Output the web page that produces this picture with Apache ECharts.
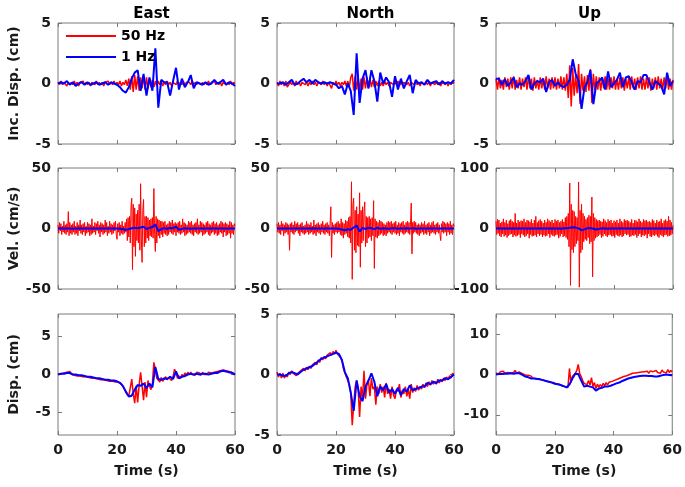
<!DOCTYPE html>
<html><head><meta charset="utf-8">
<script src="https://cdn.jsdelivr.net/npm/echarts@6/dist/echarts.min.js"></script>
<style>html,body{margin:0;padding:0;background:#fff}#c{width:685px;height:487px}</style>
</head><body><div id="c"></div>
<script>
// ---- labels / ticks ----
const columnTitles = ['East', 'North', 'Up'];
const rowNames = ['Inc. Disp. (cm)', 'Vel. (cm/s)', 'Disp. (cm)'];
const seriesNames = ['50 Hz', '1 Hz'];
const xTickValues = [0, 20, 40, 60];
const yRanges = [[[-5, 5], [-5, 5], [-5, 5]], [[-50, 50], [-50, 50], [-100, 100]], [[-8, 8], [-5, 5], [-15, 15]]];
const yTickValues = [[[-5, 0, 5], [-5, 0, 5], [-5, 0, 5]], [[-50, 0, 50], [-50, 0, 50], [-100, 0, 100]], [[-5, 0, 5], [-5, 0, 5], [-10, 0, 10]]];

// ---- Incremental displacement (cm) ----
const incEast50 = [0.1,-0.1,0.2,-0.1,0.1,0.2,-0.2,0.1,-0.1,0.1, -0.1,0.2,-0.1,0.1,-0.2,0.1,0,0.2,-0.1,0.1, -0.1,0.1,-0.2,0.1,0.1,-0.1,0.2,-0.1,0.1,-0.1, 0.1,-0.2,0.1,0,0.2,-0.1,0.1,-0.1,0.2,-0.1, 0.1,-0.1,0.2,-0.2,0.1,-0.1,0.3,-0.2,0.4,-0.5, 0.6,-0.7,0.7,-0.5,0.6,-0.6,0.5,-0.4,0.6,-0.5, 0.5,-0.4,0.4,-0.3,0.3,-0.3,0.2,-0.2,0.2,-0.1, 0.2,-0.2,0.1,-0.1,0.2,-0.1,0.1,-0.2,0.1,0.1, -0.1,0.2,-0.1,0.1,-0.1,0.2,-0.2,0.1,0,0.1, -0.1,0.2,-0.1,0.1,-0.1,0.1,0.2,-0.1,0.1,-0.1, 0.1,-0.1,0.2,-0.1,0.1,0,0.2,-0.1,0.1,-0.1, 0.1,-0.2,0.1,0.2,-0.1,0.1,-0.1,0.2,-0.1,0.1, 0];
const incEast1 = [0,0.1,0,0.2,-0.1,0.1,-0.2,0,0.1,-0.1, 0.1,-0.1,0,0.1,-0.1,0,0.1,-0.1,0.1,0, -0.1,-0.3,-0.6,-0.75,-0.3,0.4,0.9,1.1,-0.6,0.8, -1.0,0.5,-0.6,2.9,-2.0,0.3,0.1,0.1,-1.0,0.2, 1.3,-0.5,0.4,-0.3,0.1,0.7,-0.4,0.1,0,-0.1, 0.1,-0.1,0,0.3,0,0.1,0.3,-0.1,0.1,0,-0.2];
const incNorth50 = [0.1,-0.2,0.2,-0.1,0.1,-0.2,0.2,-0.3,-0.1,0.2, -0.1,0.1,-0.2,0.2,-0.1,0.1,-0.2,0.1,0.2,-0.1, 0.1,-0.2,0.1,-0.1,0.2,-0.1,0.1,-0.2,0.1,0.1, -0.1,0.2,-0.1,0.1,-0.2,0.1,0.2,-0.4,0.1,-0.1, 0.2,-0.1,0.1,-0.2,0.1,-0.1,0.2,-0.2,0.2,-0.3, 0.5,0.8,-0.6,0.6,-0.5,0.5,-0.6,0.4,-0.5,0.5, -0.4,0.5,-0.4,0.4,-0.3,0.3,-0.3,0.2,-0.2,0.2, -0.2,0.1,-0.2,0.2,-0.1,0.1,-0.2,0.1,0.2,-0.1, 0.1,-0.1,0.2,-0.2,0.1,-0.1,0.1,0.2,-0.1,0.1, -0.2,0.1,0.1,-0.1,0.2,-0.1,0.1,-0.2,0.1,0.1, -0.1,0.2,-0.1,0.1,-0.2,0.1,0.1,-0.1,0.2,-0.1, 0.1,-0.2,0.1,0.2,-0.1,0.1,-0.2,0.1,-0.1,0.2, 0];
const incNorth1 = [0,0,0.1,-0.1,0.1,0.3,-0.1,0,0.2,0.4, 0.1,0.3,0,0.3,0.1,0,0.1,0,0.1,0, -0.1,-0.4,-0.2,-0.9,0,-0.6,-2.6,2.5,-1.6,0.4, 1.1,-0.4,1.1,0.2,-1.5,0.9,0,0.5,0.1,-1.1, 0.6,-0.5,0.4,-0.4,0.2,0.7,-0.8,0.3,0,0.1, -0.1,0.3,0,0.1,0.2,-0.1,0.2,0,0.1,0,0.3];
const incUp50 = [0.4,-0.5,0.5,-0.4,0.3,-0.5,0.5,-0.3,0.4,-0.5, 0.5,-0.4,0.6,-0.5,0.3,-0.4,0.5,-0.5,0.4,-0.3, 0.5,-0.5,0.6,-0.4,0.4,-0.6,0.5,-0.4,0.3,-0.5, 0.5,-0.4,0.4,-0.5,0.6,-0.4,0.4,-0.5,0.5,-0.4, 0.5,-0.5,0.4,-0.4,0.6,-0.5,0.5,-0.6,0.8,-1.2, 1.5,-1.9,1.3,-1.0,0.7,-0.8,1.6,-1.7,0.8,-0.6, 0.6,-0.7,0.7,-0.6,1.2,-1.6,0.8,-0.6,0.6,-0.5, 0.5,-0.6,0.5,-0.4,0.6,-0.5,0.4,-0.5,0.5,-0.4, 0.6,-0.5,0.4,-0.5,0.5,-0.4,0.5,-0.6,0.4,-0.4, 0.5,-0.5,0.6,-0.4,0.4,-0.5,0.5,-0.4,0.6,-0.5, 0.4,-0.5,0.5,-0.4,0.5,-0.6,0.4,-0.4,0.5,-0.5, 0.6,-0.4,0.4,-0.5,0.5,-0.4,0.6,-0.5,0.4,-0.5, 0.3];
const incUp1 = [0.4,0.4,-0.1,0.35,-0.2,0.1,0.5,-0.3,0,-0.1, 0.2,0.7,-0.5,0,0.2,0.1,0.4,-0.7,0.1,0.3, -0.2,0.1,-0.2,-0.3,-0.1,0.3,2.0,0.8,0.2,-2.1, -0.3,0.1,1.1,-1.7,0,0.2,0.5,-0.5,1.0,-0.3, 0,0.3,0.9,-0.3,0.5,0.6,0.1,-0.5,0.2,0.1, 0.7,0.7,0.1,-0.5,0.2,0,-0.2,-0.9,0.9,-0.2,0.2];

// ---- Velocity (cm/s) ----
const velEast50 = [3,-4,5,-2,4,-5,2,-3,6,-4,3,-5,4,-3,14,-6,5,-4,3,-5, 4,-3,6,-5,2,-4,5,-6,3,-2,7,-4,3,-5,4,-3,5,-6,2,-4, 5,-3,4,-6,3,-5,8,-4,2,-3,5,-5,4,-2,6,-4,3,-7,5,-3, 4,-5,3,-4,7,-3,5,-6,2,-4,6,-3,4,-5,3,-4,5,-2,6,-5, -9,4,-3,5,-6,3,-4,6,-5,2,-4,5,-3,8,-10,9,-7,10,-12,18, 25,-34,20,-15,17,-23,12,-10,15,-12,20,-18,37,-8,-28,15,24,-15,10,-12, 10,-8,9,-10,7,-6,8,-7,9,-8,33,-5,-19,10,-12,8,-6,7,-8,6, -5,6,-7,5,-4,6,-5,3,-6,4,-5,6,-3,5,-4,7,-5,4,-3,5, -6,4,-3,5,-4,6,-5,3,-4,8,-3,5,-6,4,-5,3,-4,6,-3,5, -4,6,-5,3,-6,4,-3,5,-4,8,-5,3,-4,6,-3,5,-6,4,-5,3, -4,5,-3,6,-5,4,-6,3,-4,5,-3,6,-5,4,-4,5,-6,3,-5,4, -3,6,-4,5,-7,4,-3,5,-6,4,-5,3,-4,6,-8,5,-4,3,-5,4, 2];
const velEast1 = [0,0.2,-0.1,0.1,0,-0.2,0.1,0,0.1,-0.1, 0,0.1,-0.1,0,0.1,-0.1,0,0.1,-0.1,0, 0.1,-0.2,-0.6,-1.0,-0.5,0.2,0.6,0.3,0.8,1.4, -0.4,0.5,1.2,3.3,-2.2,-0.5,0.3,-0.2,0.4,0.3, 1.6,-1.1,-0.3,0.2,0.1,-0.2,0.1,0,0.1,-0.1, 0,0.1,-0.1,0,0.1,0,-0.1,0.1,0,-0.1,0];
const velNorth50 = [4,-3,5,-4,3,-5,6,-2,4,-6,3,-4,5,-3,4,-5,3,-18,4,-3, 5,-4,3,-5,6,-3,4,-2,5,-4,3,-6,4,-3,5,-4,2,-5,3,-4, 6,-3,4,-5,3,-4,5,-3,2,-5,7,-4,3,-6,4,-3,5,-4,3,-5, 4,-3,6,-4,3,-5,4,-3,5,-4,3,-6,4,18,-24,5,-4,3,-5,4, -3,5,-4,6,-3,4,-5,8,-6,5,-8,4,-5,7,-4,6,-7,9,-8,10, -12,38.6,-42,20,25,-18,15,-20,18,-14,12,-15,29.5,-32,15,-12,18,-10,14,22, -15,10,-12,9,-8,10,-7,8,-10,9,-6,23,-33,8,-7,6,-8,5,-6,7, -5,6,-4,5,-6,4,-5,3,-6,5,-4,6,-3,5,-4,6,-5,4,-3,5, -4,6,-5,3,-4,5,-6,4,-3,5,-4,6,-5,3,-4,5,-3,6,-4,5, -5,3,21,-21,5,-4,6,-3,5,-4,3,-5,4,-6,3,-4,5,-3,4,-5, 6,-4,3,-5,4,-3,5,-6,3,-4,5,-3,6,-4,3,-5,4,-3,5,-4, 3,-5,-10,4,-3,6,-4,5,-3,4,-6,5,-3,4,-5,6,-4,3,-5,4, 2];
const velNorth1 = [0,0.1,0,-0.1,0.1,0,0.1,-0.1,0,0.1, 0,-0.1,0.1,0,0.1,0,-0.1,0.1,0,0.1, 0,-0.3,-0.8,-1.4,-0.6,-1.0,0.8,2.5,-2.5,0.5, -0.4,0.6,0.2,-0.5,0.6,-0.3,0.2,0.1,-0.3,0.2, 0.3,-0.2,0.1,0,0.2,-0.1,0.3,-0.2,0,0.1, 0,0.1,-0.1,0,0.1,0,-0.1,0.1,0,0.1,0];
const velUp50 = [12,-10,15,-8,14,-12,9,-14,11,-9,16,-13,10,-11,14,-15,8,-12,13,-10, 15,-9,12,-14,10,-11,25,-13,9,-12,14,-10,11,-15,13,-9,12,-11,16,-14, 10,-12,14,-9,13,-16,11,-10,15,-13,9,-12,14,-11,20,-14,10,-9,13,-12, 15,-10,12,-14,9,-11,14,-13,10,-12,16,-9,13,-15,11,-10,14,-12,9,-13, 15,-11,12,-10,14,-16,10,-13,12,-9,15,-14,11,-12,18,-15,20,-18,25,-30, 75,-94,40,-35,30,-40,28,-30,20,-25,18,-20,77,-97,30,-40,40,-35,25,-22, 20,-18,15,-20,18,-15,22,-25,20,-22,52,-80,25,-20,18,-16,15,-14,13,-12, 14,-10,12,-15,11,-13,16,-9,13,-12,10,-14,15,-11,12,-10,14,-13,9,-12, 13,-15,11,-10,14,-12,9,-13,16,-11,12,-14,10,-12,15,-9,13,-11,14,-10, 12,-14,10,-13,15,-11,9,-12,14,-10,13,-15,11,-12,16,-9,12,-14,10,-11, 15,-12,13,-10,14,-16,11,-9,12,-13,10,-14,15,-11,13,-12,9,-10,14,-13, 11,-15,12,-10,16,-12,9,-14,13,-11,15,-10,12,-13,20,-12,14,-11,10,-9, 5];
const velUp1 = [0,0.3,-0.2,0.1,0,0.2,-0.1,0,0.2,-0.2, 0.1,0,-0.2,0.2,0,-0.1,0.1,0,-0.2,0.1, 0,0.2,-0.3,0.3,0.6,1.2,2.2,1.5,0.2,-2.8, -1.5,0.5,0.8,-0.4,-1.7,-0.6,0.4,0.2,-0.3,0.2, 0,-0.2,0.3,0,-0.1,0.2,0,-0.2,0.1,0, 0.2,-0.1,0,0.1,-0.2,0,0.1,0,-0.1,0.1,0];

// ---- Displacement (cm) ----
const dispEast50 = [0.1,0.2,0.1,0.3,0.2,0.4,0.3,0.2,0.4,0.1, 0.1,-0.1,0.1,-0.2,0,-0.2,-0.1,-0.3,-0.1,-0.3, -0.2,-0.4,-0.3,-0.5,-0.3,-0.5,-0.4,-0.6,-0.5,-0.7, -0.5,-0.7,-0.6,-0.8,-0.6,-0.9,-0.7,-0.9,-0.8,-1.0, -0.8,-1.0,-1.0,-1.3,-1.4,-1.9,-2.2,-2.6,-2.9,-3.0, -0.6,-2.5,-3.8,-1.5,-3.7,-1.4,0.3,-1.5,-3.4,-1.0, -3.0,-0.8,-1.5,-2.0,-1.2,1.6,0.6,-0.5,-0.5,-1.0, -0.4,-0.9,-0.6,-0.3,-0.7,-0.4,-0.2,-0.8,-0.3,0.7, 0.3,-0.5,-0.2,-0.5,0,-0.3,0.2,-0.1,0.3,0, 0.3,0,0.2,-0.1,0.3,0.1,0.2,-0.1,0.3,0, 0.2,0,0.3,0.1,0.2,0,0.3,0.1,0.4,0.2, 0.5,0.3,0.6,0.4,0.5,0.3,0.4,0.2,0.3,0.1, 0];
const dispEast1 = [0,0.1,0.1,0.2,0.2,0,0,-0.1,-0.1,-0.2, -0.3,-0.3,-0.4,-0.5,-0.5,-0.6,-0.7,-0.7,-0.8,-0.8, -0.9,-1.1,-1.5,-2.3,-2.9,-2.8,-2.0,-1.4,-1.5,-1.2, -1.8,-1.2,-1.7,1.0,-0.6,-0.7,-0.5,-0.6,-0.3,-0.6, 0.4,-0.5,-0.3,-0.2,0,0.1,0,0.1,0,0.1, 0.1,0,0.1,0.2,0.2,0.4,0.5,0.4,0.3,0.2,0];
const dispNorth50 = [0.2,-0.2,0.1,-0.3,0.1,-0.3,0,-0.2,0.2,0, 0.3,0.1,0.2,-0.1,0.1,0.2,0.3,0.2,0.5,0.3, 0.6,0.4,0.7,0.5,0.8,0.7,1.0,0.8,1.2,1.0, 1.4,1.2,1.5,1.3,1.6,1.5,1.8,1.6,1.9,1.7, 2.0,1.7,1.8,1.4,1.2,0.5,0.4,-0.2,-0.1,-0.8, -1.5,-4.2,-2.5,-1.0,-0.5,-1.2,-3.5,-1.0,-2.0,0.3, -2.0,-0.8,-0.5,-1.8,-0.3,-1.2,-1.0,-2.5,-1.0,-1.6, -0.8,-1.5,-1.0,-1.9,-0.7,-1.6,-1.2,-2.0,-1.0,-1.7, -2.0,-1.2,-1.4,-0.8,-1.9,-1.3,-1.6,-1.0,-1.8,-1.2, -2.0,-0.8,-1.5,-1.1,-1.4,-0.9,-1.3,-1.0,-1.2,-0.8, -1.1,-0.7,-1.0,-0.6,-0.9,-0.5,-0.8,-0.6,-0.8,-0.4, -0.7,-0.4,-0.6,-0.3,-0.5,-0.2,-0.4,-0.1,-0.3,0.1, 0];
const dispNorth1 = [0,0,-0.1,-0.1,0.1,0.2,0.1,0,0.2,0.4, 0.5,0.6,0.7,0.9,1.1,1.3,1.4,1.5,1.6,1.7, 1.8,1.7,1.2,0.2,-0.3,-1.5,-3.0,-0.5,-1.8,-2.2, -1.0,-0.5,0.1,-0.6,-1.8,-1.0,-1.3,-0.8,-1.5,-1.2, -1.6,-1.1,-1.7,-1.2,-1.4,-0.9,-1.3,-1.2,-1.1,-1.0, -1.0,-0.7,-0.8,-0.6,-0.7,-0.5,-0.5,-0.3,-0.4,-0.2,0];
const dispUp50 = [0.3,0.6,0.2,0.7,0.4,0.8,0.3,0.6,0.5,0.9, 0.4,0.8,0.5,1.0,0.4,0.7,0.6,0.3,0.2,-0.2, -0.1,-0.5,-0.2,-0.6,-0.4,-0.9,-0.6,-1.0,-0.7,-1.1, -0.8,-1.3,-1.0,-1.5,-1.2,-1.7,-1.4,-1.9,-1.6,-2.0, -1.8,-2.3,-2.0,-2.4,-2.2,-2.8,-2.5,-3.0,-2.6,-3.2, 1.5,-2.0,-0.5,-0.2,0.3,1.0,2.5,0.2,-0.5,-1.5, -2.2,-1.8,-2.5,-1.5,-2.6,-0.8,-3.0,-2.0,-3.5,-2.4, -3.2,-2.5,-3.0,-2.2,-2.8,-2.0,-2.6,-1.9,-2.3,-1.7, -2.0,-1.4,-1.8,-1.1,-1.4,-0.8,-1.1,-0.5,-0.8,-0.3, -0.5,0,-0.2,0.3,0,0.4,0.1,0.5,0.2,0.6, 0.3,0.7,0.4,0.8,0.3,0.9,0.5,0.7,0.4,1.0, 0.5,0.9,0.3,1.1,0.6,0.8,0.4,1.2,0.5,1.0, 0.6];
const dispUp1 = [0,0.1,0.1,0.2,0.2,0.3,0.2,0.3,0.3,-0.1, -0.5,-0.7,-1.0,-1.0,-1.1,-1.2,-1.4,-1.6,-1.8,-2.0, -2.3,-2.4,-2.6,-2.9,-3.2,-2.5,-1.0,0.2,0.1,-1.5, -3.0,-2.8,-3.0,-3.2,-4.0,-3.5,-3.3,-3.0,-3.0,-2.8, -2.5,-2.2,-2.0,-1.6,-1.3,-1.0,-0.8,-0.6,-0.5,-0.4, -0.3,-0.3,-0.4,-0.4,-0.5,-0.5,-0.3,-0.1,0,-0.1,-0.2];

const red = [[incEast50, incNorth50, incUp50], [velEast50, velNorth50, velUp50], [dispEast50, dispNorth50, dispUp50]];
const blue = [[incEast1, incNorth1, incUp1], [velEast1, velNorth1, velUp1], [dispEast1, dispNorth1, dispUp1]];

// ---- layout ----
const colLeft = [58, 277, 496];
const rowTop = [23, 168, 314];
const panelW = 177, panelH = 121;
const FONT = 'DejaVu Sans';
const TXT = '#1a1a1a';
const BOX = '#7a7a7a';

function toPairs(arr) {
  const dt = 60 / (arr.length - 1);
  return arr.map((v, i) => [i * dt, v]);
}

const grid = [], xAxis = [], yAxis = [], series = [], title = [];
for (let r = 0; r < 3; r++) {
  for (let c = 0; c < 3; c++) {
    const g = r * 3 + c;
    grid.push({ left: colLeft[c], top: rowTop[r], width: panelW, height: panelH, show: true, borderColor: BOX, borderWidth: 1 });
    const tickStyle = { show: true, inside: true, length: 4, lineStyle: { color: BOX, width: 1 } };
    const noLine = { show: false, onZero: false };
    xAxis.push({
      type: 'value', gridIndex: g, position: 'bottom', min: 0, max: 60, interval: 20,
      axisLine: noLine, splitLine: { show: false }, axisTick: tickStyle,
      axisLabel: { show: r === 2, margin: 8, color: TXT, fontFamily: FONT, fontWeight: 'bold', fontSize: 14, showMaxLabel: true, showMinLabel: true },
      name: r === 2 ? 'Time (s)' : '', nameLocation: 'middle', nameGap: 29,
      nameTextStyle: { color: TXT, fontFamily: FONT, fontWeight: 'bold', fontSize: 14 }
    });
    xAxis.push({
      type: 'value', gridIndex: g, position: 'top', min: 0, max: 60, interval: 20,
      axisLine: noLine, splitLine: { show: false }, axisTick: tickStyle, axisLabel: { show: false }
    });
    const yr = yRanges[r][c], yt = yTickValues[r][c];
    yAxis.push({
      type: 'value', gridIndex: g, position: 'left', min: yr[0], max: yr[1],
      axisLine: noLine, splitLine: { show: false },
      axisTick: Object.assign({}, tickStyle, { customValues: yt }),
      axisLabel: { customValues: yt, margin: 7, color: TXT, fontFamily: FONT, fontWeight: 'bold', fontSize: 14 },
      name: c === 0 ? rowNames[r] : '', nameLocation: 'middle', nameGap: 37, nameRotate: 90,
      nameTextStyle: { color: TXT, fontFamily: FONT, fontWeight: 'bold', fontSize: 14 }
    });
    yAxis.push({
      type: 'value', gridIndex: g, position: 'right', min: yr[0], max: yr[1],
      axisLine: noLine, splitLine: { show: false },
      axisTick: Object.assign({}, tickStyle, { customValues: yt }),
      axisLabel: { show: false, customValues: yt }
    });
    series.push({
      name: seriesNames[0], type: 'line', xAxisIndex: 2 * g, yAxisIndex: 2 * g,
      data: toPairs(red[r][c]), showSymbol: false, symbol: 'none', clip: true, z: 2,
      lineStyle: { color: '#ff0000', width: r === 1 ? 1 : 1.5 }, itemStyle: { color: '#ff0000' }
    });
    series.push({
      name: seriesNames[1], type: 'line', xAxisIndex: 2 * g, yAxisIndex: 2 * g,
      data: toPairs(blue[r][c]), showSymbol: false, symbol: 'none', clip: true, z: 3,
      lineStyle: { color: '#0000ff', width: 2 }, itemStyle: { color: '#0000ff' }
    });
  }
}
for (let c = 0; c < 3; c++) {
  title.push({ text: columnTitles[c], left: colLeft[c] + panelW / 2, top: 2, textAlign: 'center',
    textStyle: { color: '#000', fontFamily: FONT, fontWeight: 'bold', fontSize: 15 } });
}

const chart = echarts.init(document.getElementById('c'), null, { renderer: 'canvas' });
chart.setOption({
  animation: false,
  backgroundColor: '#fff',
  title: title,
  legend: {
    show: true, z: 10,
    data: seriesNames, orient: 'vertical', left: 60, top: 24, itemWidth: 50, itemHeight: 14, itemGap: 7,
    selectedMode: false,
    itemStyle: { opacity: 0, borderWidth: 0 },
    textStyle: { color: '#000', fontFamily: FONT, fontWeight: 'bold', fontSize: 14 }
  },
  grid: grid, xAxis: xAxis, yAxis: yAxis, series: series
});
</script>
</body></html>
